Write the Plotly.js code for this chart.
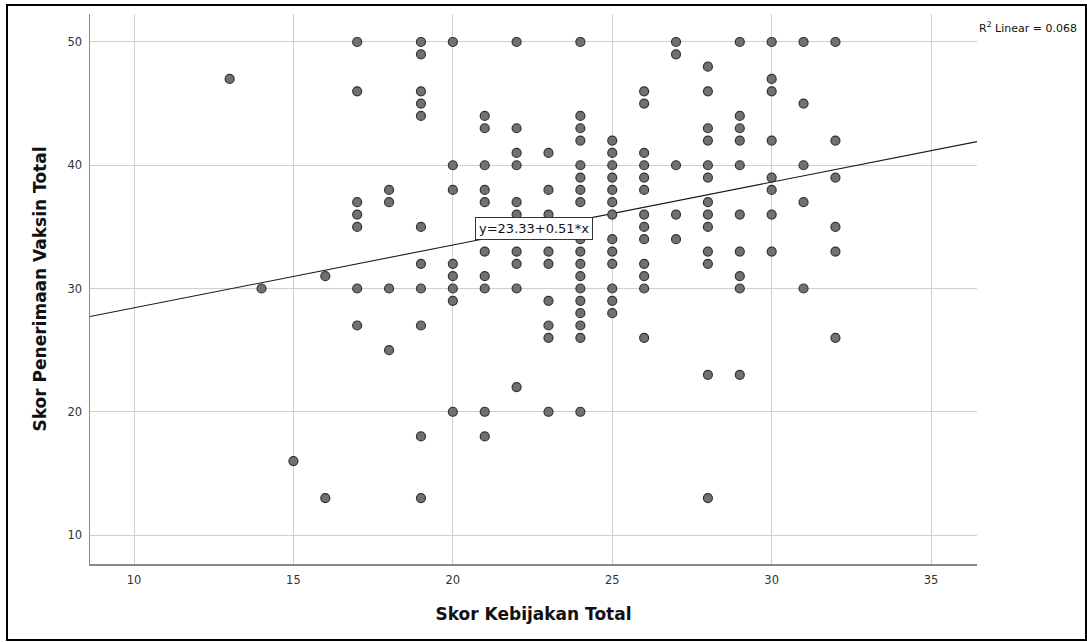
<!DOCTYPE html>
<html>
<head>
<meta charset="utf-8">
<script src="https://cdn.plot.ly/plotly-3.0.1.min.js"></script>
<style>
  html, body { margin: 0; padding: 0; background: #fff; }
  #wrap { position: relative; width: 1087px; height: 642px; }
  #chart { width: 1087px; height: 642px; }
  #frame { position: absolute; left: 6px; top: 4px; width: 1077px; height: 633px;
           border: 2px solid #000; pointer-events: none; }
</style>
</head>
<body>
<div id="wrap"><div id="chart"></div><div id="frame"></div></div>
<script>
// Skor Kebijakan Total (x) paired with Skor Penerimaan Vaksin Total (y)
const kebijakan = [
  13,
  14,
  15,
  16,16,
  17,17,17,17,17,17,17,
  18,18,18,18,
  19,19,19,19,19,19,19,19,19,19,19,
  20,20,20,20,20,20,20,20,
  21,21,21,21,21,21,21,21,21,21,
  22,22,22,22,22,22,22,22,22,22,22,
  23,23,23,23,23,23,23,23,23,23,
  24,24,24,24,24,24,24,24,24,24,24,24,24,24,24,24,24,24,24,
  25,25,25,25,25,25,25,25,25,25,25,25,25,
  26,26,26,26,26,26,26,26,26,26,26,26,26,
  27,27,27,27,27,
  28,28,28,28,28,28,28,28,28,28,28,28,28,
  29,29,29,29,29,29,29,29,29,29,
  30,30,30,30,30,30,30,30,
  31,31,31,31,31,
  32,32,32,32,32,32
];
const penerimaan = [
  47,
  30,
  16,
  31,13,
  50,46,37,36,35,30,27,
  38,37,30,25,
  50,49,46,45,44,35,32,30,27,18,13,
  50,40,38,32,31,30,29,20,
  44,43,40,38,37,33,31,30,20,18,
  50,43,41,40,37,36,35,33,32,30,22,
  41,38,36,35,33,32,29,27,26,20,
  50,44,43,42,40,39,38,37,35,33,32,31,30,29,28,27,26,20,34,
  42,41,40,39,38,37,36,34,33,32,30,29,28,
  46,45,41,40,39,38,36,35,34,32,31,30,26,
  50,49,40,36,34,
  48,46,43,42,40,39,37,36,35,33,32,23,13,
  50,44,43,42,40,36,33,31,30,23,
  50,47,46,42,39,38,36,33,
  50,45,40,37,30,
  50,42,39,35,33,26
];
const fitIntercept = 23.33;
const fitSlope = 0.51;
const rSquared = 0.068;
const xRange = [8.62, 36.44];
const yRange = [7.65, 52.27];
const xTicks = [10, 15, 20, 25, 30, 35];
const yTicks = [10, 20, 30, 40, 50];

const fitX = xRange.slice();
const fitY = fitX.map(v => fitIntercept + fitSlope * v);
const labelX = 22.55;

const font = '"DejaVu Sans", Verdana, sans-serif';

const traces = [
  {
    type: 'scatter', mode: 'lines', x: fitX, y: fitY,
    line: { color: '#1a1a1a', width: 1.1 }, hoverinfo: 'skip', showlegend: false
  },
  {
    type: 'scatter', mode: 'markers', x: kebijakan, y: penerimaan,
    marker: { size: 9, color: '#717171', line: { color: '#333333', width: 1.2 } },
    showlegend: false
  }
];

const layout = {
  width: 1087, height: 642,
  margin: { l: 90, r: 110, t: 14, b: 78 },
  paper_bgcolor: '#ffffff', plot_bgcolor: '#ffffff',
  font: { family: font, color: '#333', size: 11 },
  xaxis: {
    range: xRange, tickvals: xTicks, ticktext: xTicks.map(String),
    showgrid: true, gridcolor: '#cfcfcf', gridwidth: 1,
    zeroline: false, showline: true, linecolor: '#8a8a8a', linewidth: 1.5,
    ticks: '', ticklen: 0, ticklabelstandoff: 5,
    tickfont: { size: 11.5, family: font, color: '#333' },
    title: { text: 'Skor Kebijakan Total', font: { size: 17, family: font, color: '#111', weight: 'bold' }, standoff: 22 }
  },
  yaxis: {
    range: yRange, tickvals: yTicks, ticktext: yTicks.map(String),
    showgrid: true, gridcolor: '#cfcfcf', gridwidth: 1,
    zeroline: false, showline: true, linecolor: '#8a8a8a', linewidth: 1.5,
    ticks: '', ticklen: 0, ticklabelstandoff: 4,
    tickfont: { size: 11.5, family: font, color: '#333' },
    title: { text: 'Skor Penerimaan Vaksin Total', font: { size: 17, family: font, color: '#111', weight: 'bold' }, standoff: 16 }
  },
  annotations: [
    {
      x: labelX, y: fitIntercept + fitSlope * labelX, xref: 'x', yref: 'y',
      text: 'y=' + fitIntercept.toFixed(2) + '+' + fitSlope.toFixed(2) + '*x',
      showarrow: false, bgcolor: '#ffffff', bordercolor: '#333', borderwidth: 1, borderpad: 3,
      font: { size: 13, family: font, color: '#111' }
    },
    {
      x: 1.0, y: 1.0, xref: 'paper', yref: 'paper', xanchor: 'left', yanchor: 'top',
      xshift: 0, yshift: -4,
      text: 'R<sup>2</sup> Linear = ' + rSquared.toFixed(3),
      showarrow: false, font: { size: 11, family: font, color: '#111' }
    }
  ]
};

Plotly.newPlot('chart', traces, layout, { displayModeBar: false, staticPlot: true });
</script>
</body>
</html>
